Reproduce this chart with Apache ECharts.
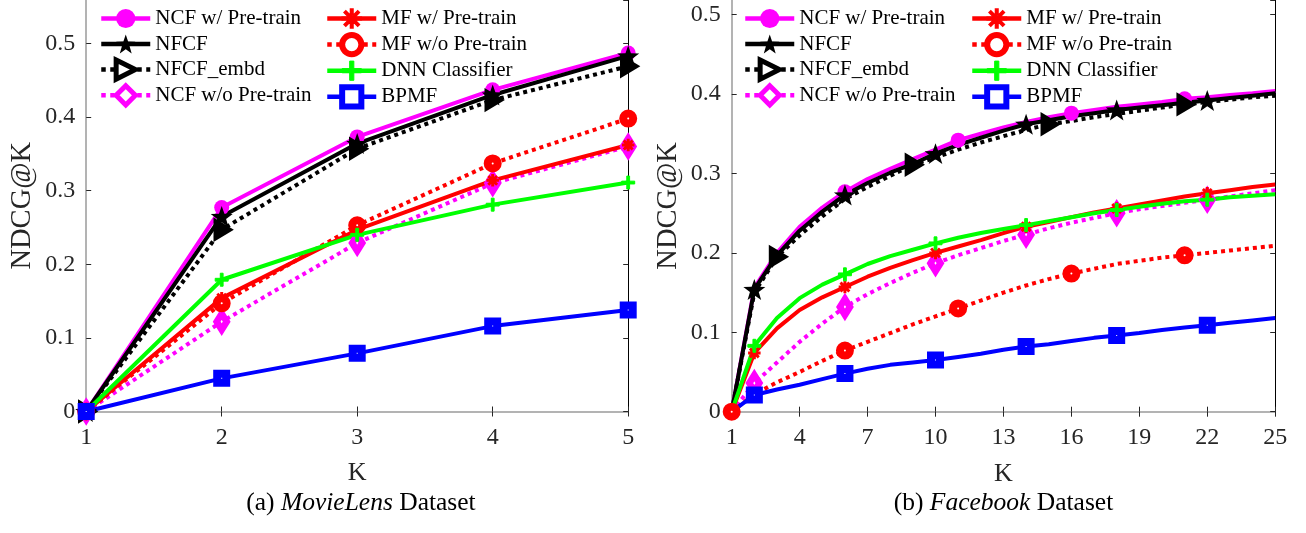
<!DOCTYPE html>
<html>
<head>
<meta charset="utf-8">
<script src="https://cdn.jsdelivr.net/npm/echarts@6/dist/echarts.min.js"></script>
<style>
html,body{margin:0;padding:0;background:#fff;}
#c{width:1306px;height:533px;}
</style>
</head>
<body>
<div id="c"></div>
<script>
// ---------- DATA ----------
const seriesNames = ['NCF w/ Pre-train','NFCF','NFCF_embd','NCF w/o Pre-train','MF w/ Pre-train','MF w/o Pre-train','DNN Classifier','BPMF'];
const yTicks = [0, 0.1, 0.2, 0.3, 0.4, 0.5];

// (a) MovieLens
const kMovieLens = [1, 2, 3, 4, 5];
const mlNcfPre    = [0, 0.277, 0.373, 0.437, 0.487];
const mlNfcf      = [0, 0.265, 0.364, 0.430, 0.483];
const mlNfcfEmbd  = [0, 0.247, 0.357, 0.423, 0.469];
const mlNcfNoPre  = [0, 0.122, 0.229, 0.310, 0.360];
const mlMfPre     = [0, 0.154, 0.247, 0.314, 0.362];
const mlMfNoPre   = [0, 0.147, 0.253, 0.337, 0.398];
const mlDnn       = [0, 0.179, 0.240, 0.281, 0.311];
const mlBpmf      = [0, 0.045, 0.079, 0.116, 0.138];

// (b) Facebook
const kFacebook = [1,2,3,4,5,6,7,8,9,10,11,12,13,14,15,16,17,18,19,20,21,22,23,24,25];
const kFacebookTicks = [1, 4, 7, 10, 13, 16, 19, 22, 25];
const fbNcfPre   = [0,0.156,0.200,0.233,0.257,0.277,0.293,0.306,0.318,0.330,0.342,0.350,0.358,0.365,0.371,0.376,0.380,0.384,0.387,0.390,0.394,0.396,0.399,0.401,0.404];
const fbNfcf     = [0,0.154,0.197,0.228,0.252,0.273,0.288,0.301,0.312,0.325,0.336,0.345,0.354,0.362,0.367,0.372,0.376,0.380,0.383,0.386,0.389,0.392,0.395,0.398,0.401];
const fbNfcfEmbd = [0,0.150,0.195,0.222,0.246,0.268,0.283,0.297,0.311,0.320,0.330,0.339,0.347,0.355,0.362,0.366,0.371,0.375,0.379,0.383,0.387,0.390,0.393,0.396,0.398];
const fbNcfNoPre = [0,0.036,0.062,0.088,0.111,0.132,0.148,0.162,0.175,0.187,0.197,0.206,0.215,0.223,0.231,0.238,0.244,0.250,0.255,0.259,0.263,0.267,0.271,0.275,0.279];
const fbMfPre    = [0,0.074,0.105,0.128,0.144,0.157,0.170,0.181,0.191,0.200,0.208,0.216,0.225,0.233,0.239,0.245,0.251,0.256,0.261,0.266,0.271,0.275,0.279,0.283,0.286];
const fbMfNoPre  = [0,0.022,0.037,0.050,0.064,0.077,0.088,0.099,0.110,0.120,0.130,0.140,0.150,0.159,0.167,0.174,0.180,0.186,0.190,0.194,0.197,0.200,0.203,0.206,0.209];
const fbDnn      = [0,0.083,0.118,0.143,0.160,0.173,0.186,0.196,0.204,0.212,0.219,0.225,0.230,0.235,0.240,0.245,0.250,0.254,0.258,0.262,0.265,0.267,0.270,0.272,0.274];
const fbBpmf     = [0,0.021,0.028,0.034,0.041,0.048,0.054,0.059,0.062,0.065,0.069,0.073,0.078,0.082,0.085,0.089,0.093,0.096,0.099,0.103,0.106,0.109,0.112,0.115,0.118];
// K values that carry a marker in (b)
const fbMarksA = [1, 6, 11, 16, 21];
const fbMarksB = [2, 6, 10, 14, 18, 22];
const fbMarksC = [3, 9, 15, 21];

// ---------- STYLES ----------
const FONT = 'Liberation Serif';
const STAR = 'path://M0,-10L2.35,-3.24L9.51,-3.09L3.8,1.24L5.88,8.09L0,4L-5.88,8.09L-3.8,1.24L-9.51,-3.09L-2.35,-3.24Z';
const TRI_R = 'path://M0,0L10,5L0,10Z';
const ASTER = 'path://M-0.8,-6H0.8V6H-0.8Z M-6,-0.8H6V0.8H-6Z M-4.8,-3.7L-3.7,-4.8L4.8,3.7L3.7,4.8Z M4.8,-3.7L3.7,-4.8L-4.8,3.7L-3.7,4.8Z';
const PLUS = 'path://M-1.3,-6H1.3V6H-1.3Z M-6,-1.3H6V1.3H-6Z';
// bw: marker border in the plot, lbw: marker border in the legend
const styles = {
  'NCF w/ Pre-train':  {c:'#ff00ff', t:'solid',  sym:'circle', sz:15, fill:'#ff00ff', bw:0, lbw:0},
  'NFCF':              {c:'#000000', t:'solid',  sym:STAR, sz:22, fill:'#000000', bw:0, lbw:0},
  'NFCF_embd':         {c:'#000000', t:'dotted', sym:TRI_R, sz:[10,12], fill:'#ffffff', bw:7, lbw:5},
  'NCF w/o Pre-train': {c:'#ff00ff', t:'dotted', sym:'diamond', sz:[10,16], fill:'#ffffff', bw:7, lbw:5},
  'MF w/ Pre-train':   {c:'#ff0000', t:'solid',  sym:ASTER, sz:11, fill:'#ff0000', bw:1.5, lbw:1.5},
  'MF w/o Pre-train':  {c:'#ff0000', t:'dotted', sym:'circle', sz:10, fill:'#ffffff', bw:8, lbw:6},
  'DNN Classifier':    {c:'#00ff00', t:'solid',  sym:PLUS, sz:13, fill:'#00ff00', bw:1, lbw:1},
  'BPMF':              {c:'#0000ff', t:'solid',  sym:'rect', sz:9, fill:'#ffffff', bw:8, lbw:6}
};

function mkSeries(name, xs, ys, marks, gi) {
  const s = styles[name];
  return {
    name: name, type: 'line', xAxisIndex: gi*2, yAxisIndex: gi*2,
    data: xs.map((k, i) => {
      const d = {value: [k, ys[i]]};
      if (marks && marks.indexOf(k) < 0) d.symbol = 'none';
      return d;
    }),
    symbol: s.sym, symbolSize: s.sz, symbolKeepAspect: true, showSymbol: true, showAllSymbol: true,
    lineStyle: {color: s.c, width: 4, type: s.t, cap: 'butt'},
    itemStyle: {color: s.fill, borderColor: s.c, borderWidth: s.bw},
    emphasis: {disabled: true},
    z: 2
  };
}

const mlData = [mlNcfPre, mlNfcf, mlNfcfEmbd, mlNcfNoPre, mlMfPre, mlMfNoPre, mlDnn, mlBpmf];
const fbData = [fbNcfPre, fbNfcf, fbNfcfEmbd, fbNcfNoPre, fbMfPre, fbMfNoPre, fbDnn, fbBpmf];
const fbMarks = [fbMarksA, fbMarksB, fbMarksC, fbMarksB, fbMarksB, fbMarksA, fbMarksB, fbMarksB];

const series = [];
seriesNames.forEach((n, i) => series.push(mkSeries(n, kMovieLens, mlData[i], null, 0)));
seriesNames.forEach((n, i) => series.push(mkSeries(n, kFacebook, fbData[i], fbMarks[i], 1)));

const tickLabelColor = '#262626';
const yFmt = v => (v === 0 ? '0' : v.toFixed(1));

function bottomX(gi, min, max, extra) {
  return Object.assign({
    type: 'value', gridIndex: gi, position: 'bottom', min: min, max: max,
    name: 'K', nameLocation: 'middle', nameGap: 49,
    nameTextStyle: {fontFamily: FONT, fontSize: 26, color: tickLabelColor},
    axisLine: {show: true, lineStyle: {color: '#9a9a9a', width: 1.5}},
    axisTick: {show: true, inside: true, length: 5, lineStyle: {color: '#262626'}},
    axisLabel: {fontFamily: FONT, fontSize: 24, color: tickLabelColor, margin: 14},
    splitLine: {show: false}
  }, extra);
}
function topX(gi, min, max, extra) {
  return Object.assign({
    type: 'value', gridIndex: gi, position: 'top', min: min, max: max,
    axisLine: {show: false},
    axisTick: {show: true, inside: true, length: 5, lineStyle: {color: '#262626'}},
    axisLabel: {show: false}, splitLine: {show: false}
  }, extra);
}
function leftY(gi, max) {
  return {
    type: 'value', gridIndex: gi, position: 'left', min: 0, max: max, interval: 0.1,
    name: 'NDCG@K', nameLocation: 'middle', nameGap: 49,
    nameTextStyle: {fontFamily: FONT, fontSize: 28.5, color: tickLabelColor},
    axisLine: {show: true, lineStyle: {color: '#9a9a9a', width: 1.5}},
    axisTick: {show: true, inside: true, length: 5, lineStyle: {color: '#262626'}},
    axisLabel: {fontFamily: FONT, fontSize: 24, color: tickLabelColor, margin: 11, formatter: yFmt, showMaxLabel: false},
    splitLine: {show: false}
  };
}
function rightY(gi, max) {
  return {
    type: 'value', gridIndex: gi, position: 'right', min: 0, max: max, interval: 0.1,
    axisLine: {show: true, lineStyle: {color: '#000', width: 1}},
    axisTick: {show: true, inside: true, length: 5, lineStyle: {color: '#262626'}},
    axisLabel: {show: false}, splitLine: {show: false}
  };
}

const fbTickExtra = {
  axisLabel: {fontFamily: FONT, fontSize: 24, color: tickLabelColor, margin: 14, customValues: kFacebookTicks},
  axisTick: {show: true, inside: true, length: 5, lineStyle: {color: '#262626'}, customValues: kFacebookTicks}
};
const fbTopExtra = {
  axisTick: {show: true, inside: true, length: 5, lineStyle: {color: '#262626'}, customValues: kFacebookTicks}
};

function legendCol(names, left) {
  return {
    orient: 'vertical', left: left, top: 6.5, itemWidth: 49, itemHeight: 24, itemGap: 1.5,
    selectedMode: false, padding: 0,
    data: names.map(n => ({
      name: n,
      itemStyle: {color: styles[n].fill, borderColor: styles[n].c, borderWidth: styles[n].lbw},
      lineStyle: {color: styles[n].c, width: 4.5, type: styles[n].t, cap: 'butt'}
    })),
    textStyle: {fontFamily: FONT, fontSize: 21, color: '#000', lineHeight: 24, padding: [0,0,0,0]}
  };
}

const captionRich = {
  n: {fontFamily: FONT, fontSize: 25.5, fill: '#000'},
  i: {fontFamily: FONT, fontSize: 25.5, fontStyle: 'italic', fill: '#000'}
};

const option = {
  animation: false,
  backgroundColor: '#fff',
  grid: [
    {left: 86.2, top: 0, width: 542, height: 411.5},
    {left: 731.7, top: 0, width: 543.5, height: 411.7}
  ],
  xAxis: [
    bottomX(0, 1, 5, {interval: 1}),
    topX(0, 1, 5, {interval: 1}),
    bottomX(1, 1, 25, fbTickExtra),
    topX(1, 1, 25, fbTopExtra)
  ],
  yAxis: [
    leftY(0, 0.559), rightY(0, 0.559),
    leftY(1, 0.5185), rightY(1, 0.5185)
  ],
  legend: [
    legendCol(seriesNames.slice(0, 4), 99),
    legendCol(seriesNames.slice(4), 325),
    legendCol(seriesNames.slice(0, 4), 743),
    legendCol(seriesNames.slice(4), 970)
  ],
  graphic: [
    {type: 'text', x: 361, y: 503, style: {
      text: '{n|(a) }{i|MovieLens}{n| Dataset}', align: 'center', verticalAlign: 'middle', rich: captionRich
    }},
    {type: 'text', x: 1003.5, y: 503, style: {
      text: '{n|(b) }{i|Facebook}{n| Dataset}', align: 'center', verticalAlign: 'middle', rich: captionRich
    }}
  ],
  series: series
};

const chart = echarts.init(document.getElementById('c'), null, {renderer: 'canvas'});
chart.setOption(option);
</script>
</body>
</html>
